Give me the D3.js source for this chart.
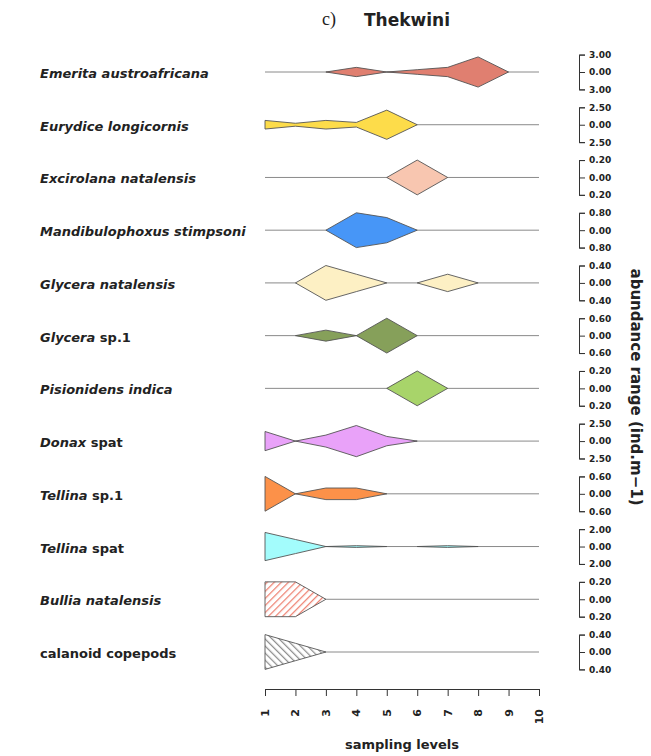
<!DOCTYPE html>
<html>
<head>
<meta charset="utf-8">
<script src="https://cdn.jsdelivr.net/npm/d3@7"></script>
<style>
  body { margin: 0; background: #fff; }
  text { font-family: "DejaVu Sans", sans-serif; font-weight: bold; fill: #222; }
</style>
</head>
<body>
<svg id="chart" width="651" height="756"></svg>
<script>
// sampling levels on the x axis
const levels = d3.range(1, 11);

// species labels: italic part + plain part
const italicNames = ["Emerita austroafricana", "Eurydice longicornis", "Excirolana natalensis",
    "Mandibulophoxus stimpsoni", "Glycera natalensis", "Glycera", "Pisionidens indica",
    "Donax", "Tellina", "Tellina", "Bullia natalensis", ""];
const plainNames = ["", "", "", "", "", " sp.1", "", " spat", " sp.1", " spat", "", "calanoid copepods"];

// max of each row's abundance range axis
const rangeMax = [3.00, 2.50, 0.20, 0.80, 0.40, 0.60, 0.20, 2.50, 0.60, 2.00, 0.20, 0.40];

// abundance at sampling levels 1..10
const abundance = [
    [0, 0, 0, 0.8, 0, 0.4, 0.8, 2.6, 0, 0],
    [0.62, 0.21, 0.62, 0.33, 2.1, 0, 0, 0, 0, 0],
    [0, 0, 0, 0, 0, 0.2, 0, 0, 0, 0],
    [0, 0, 0, 0.8, 0.58, 0, 0, 0, 0, 0],
    [0, 0, 0.4, 0.2, 0, 0, 0.2, 0, 0, 0],
    [0, 0, 0.19, 0, 0.6, 0, 0, 0, 0, 0],
    [0, 0, 0, 0, 0, 0.2, 0, 0, 0, 0],
    [1.38, 0, 0.86, 2.24, 0.67, 0, 0, 0, 0, 0],
    [0.6, 0, 0.2, 0.2, 0, 0, 0, 0, 0, 0],
    [1.62, 0.81, 0, 0.1, 0, 0, 0.1, 0, 0, 0],
    [0.2, 0.2, 0, 0, 0, 0, 0, 0, 0, 0],
    [0.4, 0.2, 0, 0, 0, 0, 0, 0, 0, 0]
];

const fills = ["#e07f70", "#fddc4a", "#f8c6b0", "#4796f7", "#fdf0c4", "#86a05a",
    "#a8d46a", "#e9a2f9", "#fc9149", "#a3fcfc", "url(#hatchRed)", "url(#hatchGrey)"];

let svg = d3.select("#chart");

// hatch patterns for the last two rows
let defs = svg.append("defs");
function hatch(id, color, angle) {
    let p = defs.append("pattern")
        .attr("id", id)
        .attr("patternUnits", "userSpaceOnUse")
        .attr("width", 5).attr("height", 5)
        .attr("patternTransform", `rotate(${angle})`);
    p.append("rect").attr("width", 5).attr("height", 5).attr("fill", "#fff");
    p.append("line")
        .attr("x1", 0.5).attr("y1", 0).attr("x2", 0.5).attr("y2", 5)
        .attr("stroke", color).attr("stroke-width", 1.5);
}
hatch("hatchRed", "#ee8070", 45);
hatch("hatchGrey", "#909090", -45);

let x = d3.scaleLinear().domain([1, 10]).range([265, 539]);
let rows = d3.scaleLinear().domain([0, 11]).range([72, 652]);
const halfH = 17.4;

let area = d3.area()
    .x(d => x(d.level))
    .y0(d => d.y(-d.v))
    .y1(d => d.y(d.v));

abundance.forEach((vals, i) => {
    let cy = rows(i);
    let y = d3.scaleLinear().domain([-rangeMax[i], rangeMax[i]]).range([cy + halfH, cy - halfH]);

    // baseline
    svg.append("line")
        .attr("x1", x(1)).attr("x2", x(10))
        .attr("y1", y(0)).attr("y2", y(0))
        .attr("stroke", "#8a8a8a").attr("stroke-width", 1);

    // split into runs of segments that carry some abundance
    let runs = [], cur = null;
    for (let k = 0; k < vals.length - 1; k++) {
        if (vals[k] > 0 || vals[k + 1] > 0) {
            if (!cur) { cur = [k]; runs.push(cur); }
            cur.push(k + 1);
        } else cur = null;
    }
    runs.forEach(run => {
        svg.append("path")
            .datum(run.map(k => ({level: levels[k], v: vals[k], y: y})))
            .attr("d", area)
            .attr("fill", fills[i])
            .attr("stroke", "#555")
            .attr("stroke-width", 0.9)
            .attr("stroke-linejoin", "miter");
    });

    // species label
    let t = svg.append("text")
        .attr("x", 40).attr("y", cy + 6)
        .style("font-size", "13px");
    if (italicNames[i]) t.append("tspan").style("font-style", "italic").text(italicNames[i]);
    if (plainNames[i]) t.append("tspan").text(plainNames[i]);

    // abundance range bracket axis
    let ax = svg.append("g")
        .attr("transform", "translate(579,0)")
        .call(d3.axisRight(y)
            .tickValues([-rangeMax[i], 0, rangeMax[i]])
            .tickFormat(d => Math.abs(d).toFixed(2))
            .tickSize(6).tickSizeOuter(6).tickPadding(4));
    ax.selectAll("path, line").attr("stroke", "#333");
    ax.selectAll("text").style("font-size", "9px").attr("fill", "#222");
});

// sampling levels axis
let xa = svg.append("g")
    .attr("transform", "translate(0,689)")
    .call(d3.axisBottom(x).tickValues(levels).tickFormat(d3.format("d"))
        .tickSize(7).tickSizeOuter(7));
xa.selectAll("path, line").attr("stroke", "#333");
xa.selectAll("text")
    .style("font-size", "11px")
    .attr("fill", "#222")
    .attr("text-anchor", "end")
    .attr("dy", null)
    .attr("dominant-baseline", "central")
    .attr("y", 0)
    .attr("transform", "translate(0,20) rotate(-90)");

svg.append("text")
    .attr("x", 402).attr("y", 749)
    .attr("text-anchor", "middle")
    .style("font-size", "13px")
    .text("sampling levels");

svg.append("text")
    .attr("transform", "translate(631,387) rotate(90)")
    .attr("text-anchor", "middle")
    .style("font-size", "15px")
    .text("abundance range (ind.m\u22121)");

// title
svg.append("text")
    .attr("x", 322).attr("y", 25)
    .style("font-family", "'Liberation Serif', serif")
    .style("font-weight", "normal")
    .style("font-size", "18px")
    .text("c)");
svg.append("text")
    .attr("x", 364).attr("y", 26)
    .style("font-size", "17px")
    .text("Thekwini");
</script>
</body>
</html>
